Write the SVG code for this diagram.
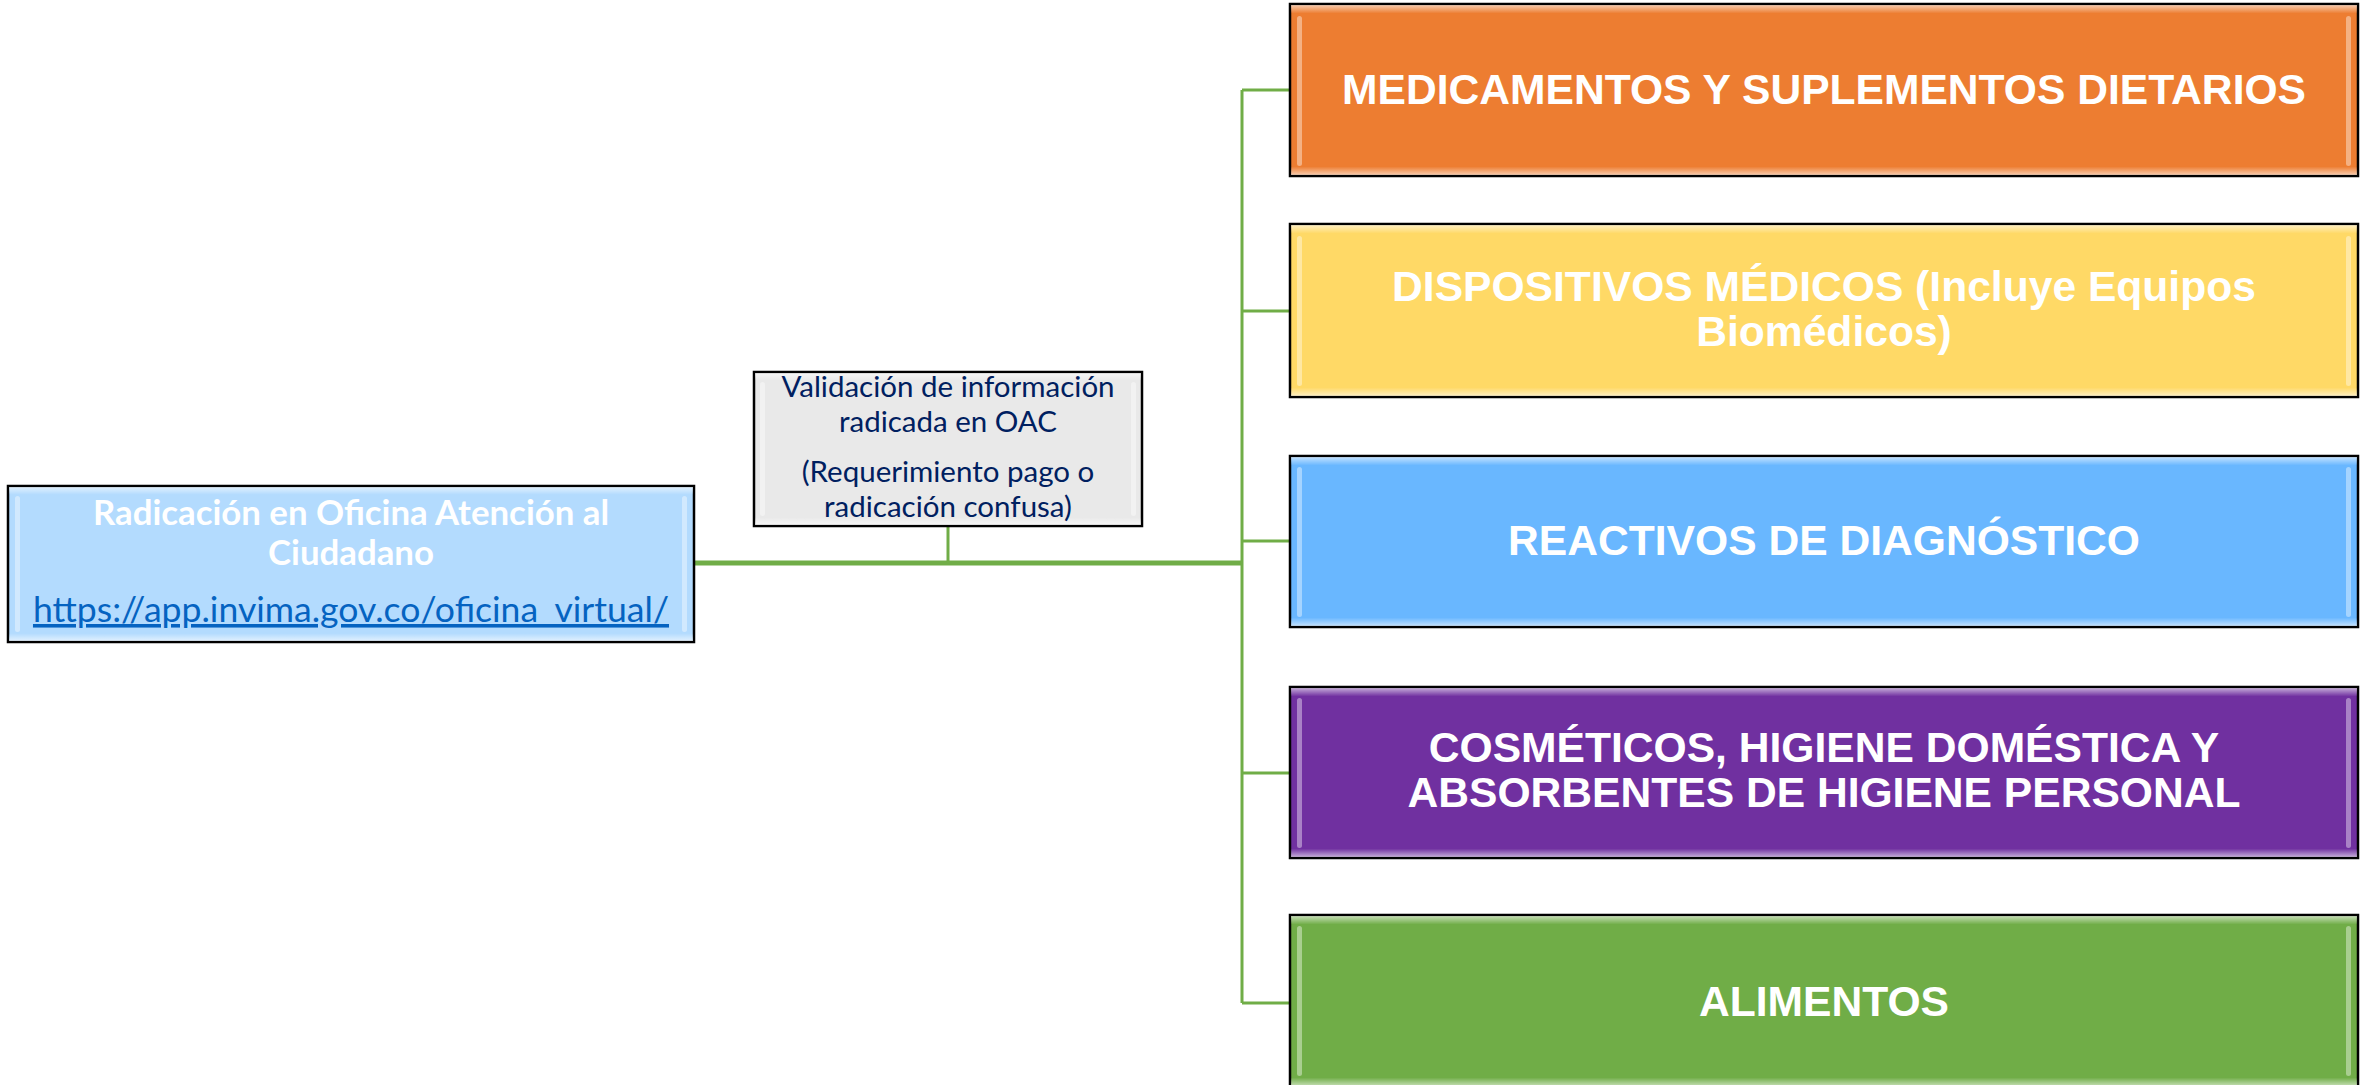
<svg xmlns="http://www.w3.org/2000/svg" width="2369" height="1085" viewBox="0 0 2369 1085">
<style>
.box{stroke:#000;stroke-width:2.5}
.bev{fill:url(#bevel);stroke:none}
.side{fill:#fff;opacity:0.4}
.big{font-family:"Liberation Sans",Arial,sans-serif;font-weight:bold;font-size:42.6px;fill:#fff;text-anchor:middle}
.lt{font-family:Lato,"Liberation Sans",sans-serif;text-anchor:middle}
.conn{stroke:#70AD47;fill:none}
</style>
<defs>
<linearGradient id="bevel" x1="0" y1="0" x2="0" y2="1">
<stop offset="0" stop-color="#fff" stop-opacity="0.6"/>
<stop offset="0.05" stop-color="#fff" stop-opacity="0"/>
<stop offset="0.95" stop-color="#fff" stop-opacity="0"/>
<stop offset="1" stop-color="#fff" stop-opacity="0.6"/>
</linearGradient>
</defs>
<rect width="2369" height="1085" fill="#fff"/>
<g id="connectors">
<path class="conn" stroke-width="5" d="M694 563H1242"/>
<path class="conn" stroke-width="3" d="M948 526V563"/>
<path class="conn" stroke-width="3" d="M1242 90V1003"/>
<path class="conn" stroke-width="3" d="M1242 90H1290M1242 311H1290M1242 541H1290M1242 773H1290M1242 1003H1290"/>
</g>
<g id="n-radicacion">
<rect class="box" x="8" y="486" width="686" height="156" fill="#B3DBFE"/>
<rect class="bev" x="9" y="487" width="684" height="154"/>
<rect class="side" x="15" y="496" width="5" height="136" rx="2.5"/>
<rect class="side" x="682" y="496" width="5" height="136" rx="2.5"/>
<text class="lt" x="351" y="525" font-size="34.8" font-weight="bold" fill="#fff">Radicación en Oficina Atención al</text>
<text class="lt" x="351" y="565" font-size="34.8" font-weight="bold" fill="#fff">Ciudadano</text>
<text class="lt" x="351" y="622" font-size="35.6" fill="#0563C1" text-decoration="underline">https://app.invima.gov.co/oficina_virtual/</text>
</g>
<g id="n-validacion">
<rect class="box" x="754" y="372" width="388" height="154" fill="#E9E9E9"/>
<rect class="bev" x="755" y="373" width="386" height="152"/>
<rect class="side" x="760" y="382" width="5" height="134" rx="2.5"/>
<rect class="side" x="1131" y="382" width="5" height="134" rx="2.5"/>
<text class="lt" x="948" y="397" font-size="29.5" fill="#002060">Validación de información</text>
<text class="lt" x="948" y="432" font-size="29.5" fill="#002060">radicada en OAC</text>
<text class="lt" x="948" y="482" font-size="29.5" fill="#002060">(Requerimiento pago o</text>
<text class="lt" x="948" y="517" font-size="29.5" fill="#002060">radicación confusa)</text>
</g>
<g id="n-medicamentos">
<rect class="box" x="1290" y="4" width="1068" height="172" fill="#ED7D31"/>
<rect class="bev" x="1291" y="5" width="1066" height="170"/>
<rect class="side" x="1297" y="16" width="5" height="150" rx="2.5"/>
<rect class="side" x="2346" y="16" width="5" height="150" rx="2.5"/>
<text class="big" x="1824" y="104">MEDICAMENTOS Y SUPLEMENTOS DIETARIOS</text>
</g>
<g id="n-dispositivos">
<rect class="box" x="1290" y="224" width="1068" height="173" fill="#FFD966"/>
<rect class="bev" x="1291" y="225" width="1066" height="171"/>
<rect class="side" x="1297" y="236" width="5" height="150" rx="2.5"/>
<rect class="side" x="2346" y="236" width="5" height="150" rx="2.5"/>
<text class="big" x="1824" y="301">DISPOSITIVOS MÉDICOS (Incluye Equipos</text>
<text class="big" x="1824" y="346">Biomédicos)</text>
</g>
<g id="n-reactivos">
<rect class="box" x="1290" y="456" width="1068" height="171" fill="#69B7FF"/>
<rect class="bev" x="1291" y="457" width="1066" height="169"/>
<rect class="side" x="1297" y="467" width="5" height="150" rx="2.5"/>
<rect class="side" x="2346" y="467" width="5" height="150" rx="2.5"/>
<text class="big" x="1824" y="555">REACTIVOS DE DIAGNÓSTICO</text>
</g>
<g id="n-cosmeticos">
<rect class="box" x="1290" y="687" width="1068" height="171" fill="#7030A0"/>
<rect class="bev" x="1291" y="688" width="1066" height="169"/>
<rect class="side" x="1297" y="698" width="5" height="150" rx="2.5"/>
<rect class="side" x="2346" y="698" width="5" height="150" rx="2.5"/>
<text class="big" x="1824" y="762">COSMÉTICOS, HIGIENE DOMÉSTICA Y</text>
<text class="big" x="1824" y="807">ABSORBENTES DE HIGIENE PERSONAL</text>
</g>
<g id="n-alimentos">
<rect class="box" x="1290" y="915" width="1068" height="172" fill="#70AD47"/>
<rect class="bev" x="1291" y="916" width="1066" height="170"/>
<rect class="side" x="1297" y="926" width="5" height="150" rx="2.5"/>
<rect class="side" x="2346" y="926" width="5" height="150" rx="2.5"/>
<text class="big" x="1824" y="1016">ALIMENTOS</text>
</g>
</svg>
